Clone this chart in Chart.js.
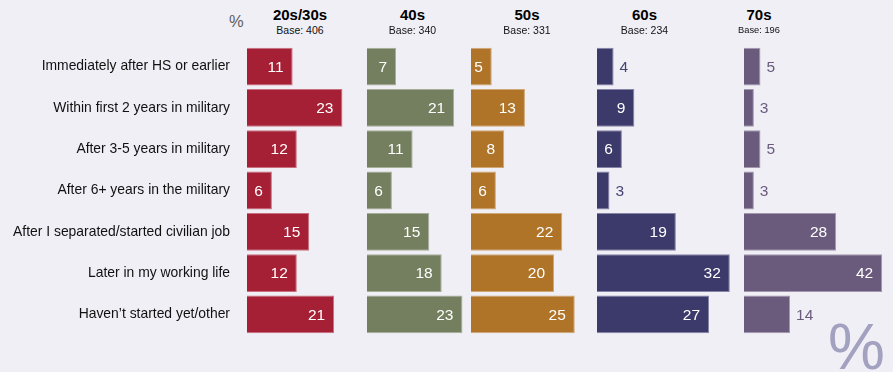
<!DOCTYPE html>
<html>
<head>
<meta charset="utf-8">
<script src="https://cdn.jsdelivr.net/npm/chart.js@4/dist/chart.umd.min.js"></script>
<style>
  html, body { margin: 0; padding: 0; background: #f0eff6; }
  #wrap { position: relative; width: 893px; height: 372px; overflow: hidden; background: #f0eff6;
          font-family: "Liberation Sans", Arial, Helvetica, sans-serif; }
  canvas { position: absolute; }
  .title { position: absolute; width: 120px; text-align: center; font-weight: bold; font-size: 15px;
           line-height: 17px; color: #000; }
  .base { position: absolute; width: 120px; text-align: center; font-size: 10.5px; line-height: 12px; color: #111; }
  #pctTop { position: absolute; left: 229px; top: 11px; font-size: 16.5px; line-height: 20px; color: #5e5e5e; }
  #pctBig { position: absolute; left: 828px; top: 312px; font-size: 64px; line-height: 70px; color: #a2a1c0; }
</style>
</head>
<body>
<div id="wrap">
  <div id="pctTop">%</div>
  <div id="pctBig">%</div>
</div>
<script>
// Survey answers, one row per category
const categories = [
  'Immediately after HS or earlier',
  'Within first 2 years in military',
  'After 3-5 years in military',
  'After 6+ years in the military',
  'After I separated/started civilian job',
  'Later in my working life',
  'Haven\u2019t started yet/other'
];

// Age groups and their sample sizes
const ageGroups = ['20s/30s', '40s', '50s', '60s', '70s'];
const bases = [406, 340, 331, 234, 196];

// Percent of each age group, in category order
const share20s30s = [11, 23, 12, 6, 15, 12, 21];
const share40s    = [7, 21, 11, 6, 15, 18, 23];
const share50s    = [5, 13, 8, 6, 22, 20, 25];
const share60s    = [4, 9, 6, 3, 19, 32, 27];
const share70s    = [5, 3, 5, 3, 28, 42, 14];

const seriesValues = [share20s30s, share40s, share50s, share60s, share70s];

// Panel layout and styling
const panels = [
  { left: 0,     width: 367,   axisWidth: 247, pxPerUnit: 4.15, fill: '#a51f35', edge: '#c9707f', text: '#a51f35', insideFrom: 0,  titleX: 300,   baseSize: 10.5 },
  { left: 367.3, width: 103.4, axisWidth: 0,   pxPerUnit: 4.15, fill: '#737f5e', edge: '#a7ae98', text: '#737f5e', insideFrom: 0,  titleX: 412.5, baseSize: 10.5 },
  { left: 470.7, width: 126.6, axisWidth: 0,   pxPerUnit: 4.15, fill: '#b07428', edge: '#cfa774', text: '#b07428', insideFrom: 0,  titleX: 527,   baseSize: 10.5 },
  { left: 597.3, width: 146.7, axisWidth: 0,   pxPerUnit: 4.15, fill: '#3c3a6b', edge: '#8584a6', text: '#454375', insideFrom: 6,  titleX: 644.5, baseSize: 10.5 },
  { left: 744,   width: 149,   axisWidth: 0,   pxPerUnit: 3.29, fill: '#6a5b7d', edge: '#a298ae', text: '#6a5b7d', insideFrom: 20, titleX: 759,   baseSize: 9.3 }
];

const plotTop = 46;
const plotHeight = 289;
const FONT = '"Liberation Sans", Arial, Helvetica, sans-serif';

// Value labels: white inside the bar end, or coloured just past a short bar
const valueLabels = {
  id: 'valueLabels',
  afterDatasetsDraw(chart, args, opts) {
    const ctx = chart.ctx;
    const meta = chart.getDatasetMeta(0);
    const values = chart.data.datasets[0].data;
    ctx.save();
    ctx.font = '15.5px ' + FONT;
    ctx.textBaseline = 'middle';
    meta.data.forEach((bar, i) => {
      const v = values[i];
      if (v >= opts.insideFrom) {
        ctx.fillStyle = '#ffffff';
        ctx.textAlign = 'right';
        ctx.fillText(String(v), bar.x - 9, bar.y + 1);
      } else {
        ctx.fillStyle = opts.color;
        ctx.textAlign = 'left';
        ctx.fillText(String(v), bar.x + 6, bar.y + 1);
      }
    });
    ctx.restore();
  }
};

const wrap = document.getElementById('wrap');

panels.forEach((p, k) => {
  // headers
  const t = document.createElement('div');
  t.className = 'title';
  t.textContent = ageGroups[k];
  t.style.left = (p.titleX - 60) + 'px';
  t.style.top = '6px';
  wrap.appendChild(t);
  const b = document.createElement('div');
  b.className = 'base';
  b.textContent = 'Base: ' + bases[k];
  b.style.left = (p.titleX - 60) + 'px';
  b.style.top = '24px';
  b.style.fontSize = p.baseSize + 'px';
  wrap.appendChild(b);

  const canvas = document.createElement('canvas');
  canvas.width = Math.round(p.width);
  canvas.height = plotHeight;
  canvas.style.left = p.left + 'px';
  canvas.style.top = plotTop + 'px';
  wrap.appendChild(canvas);

  const plotWidth = canvas.width - p.axisWidth;

  new Chart(canvas, {
    type: 'bar',
    data: {
      labels: categories,
      datasets: [{
        data: seriesValues[k],
        backgroundColor: p.fill,
        borderColor: p.edge,
        borderWidth: 1,
        borderSkipped: 'start',
        categoryPercentage: 1,
        barPercentage: 0.915
      }]
    },
    options: {
      indexAxis: 'y',
      responsive: false,
      animation: false,
      devicePixelRatio: 1,
      layout: { padding: 0 },
      scales: {
        x: {
          display: false,
          min: 0,
          max: plotWidth / p.pxPerUnit
        },
        y: {
          display: k === 0,
          grid: { display: false, drawTicks: false },
          border: { display: false },
          ticks: {
            color: '#111',
            padding: 17,
            font: { family: FONT, size: 13.9 }
          },
          afterFit(scale) {
            if (k === 0) {
              scale.width = p.axisWidth;
              scale.paddingTop = 0;
              scale.paddingBottom = 0;
            }
          }
        }
      },
      plugins: {
        legend: { display: false },
        tooltip: { enabled: false },
        valueLabels: { insideFrom: p.insideFrom, color: p.text }
      }
    },
    plugins: [valueLabels]
  });
});
</script>
</body>
</html>
